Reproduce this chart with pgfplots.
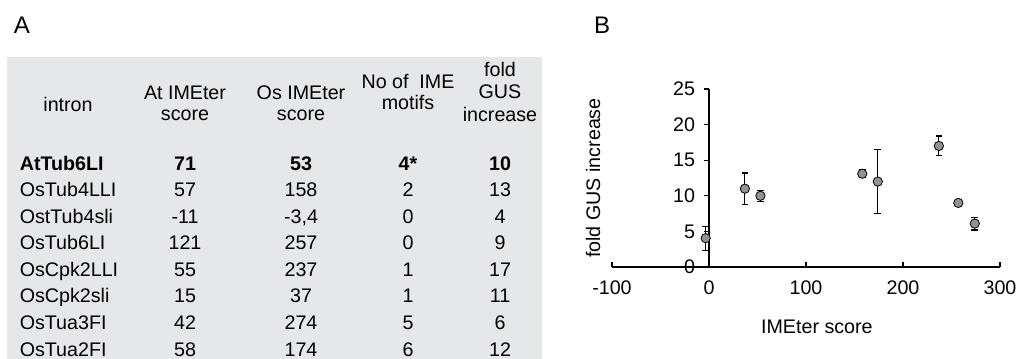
\documentclass[border=0pt]{standalone}
\usepackage{pgfplots}
\usepackage{pgfplotstable}
\pgfplotsset{compat=1.18}
\usepackage{fontspec}
\setmainfont{Liberation Sans}
\definecolor{tablegray}{HTML}{E6E7E8}
\definecolor{markgray}{HTML}{929292}

\pgfplotstableread{
os    fold  err
53    10    0.75
158   13.1  0.55
-3.4  4.05  1.7
257   9     0.15
237   17    1.4
37    11    2.2
274   6.1   0.9
174   12    4.45
}\scatterdata

\begin{document}
\fontsize{14.75}{16.5}\selectfont
\begin{tikzpicture}
\begin{scope}[x=0.75pt,y=-0.75pt]
\fill[tablegray] (7,57) rectangle (542,359);
\node[font=\fontsize{18}{20}\selectfont, anchor=base] at (22,33.5) {A};
\node[font=\fontsize{18}{20}\selectfont, anchor=base] at (602,33.5) {B};
% header
\node[anchor=base] at (68,112) {intron};
\node[anchor=base] at (185,100) {At IMEter};
\node[anchor=base] at (185,121) {score};
\node[anchor=base] at (301,100) {Os IMEter};
\node[anchor=base] at (301,121) {score};
\node[anchor=base] at (408,89) {No of\ \ IME};
\node[anchor=base] at (408,110) {motifs};
\node[anchor=base] at (500,77) {fold};
\node[anchor=base] at (500,99) {GUS};
\node[anchor=base] at (500,122) {increase};
% rows
\node[anchor=base west, font=\bfseries] at (13,170.5) {AtTub6LI};
\node[anchor=base, font=\bfseries] at (185,170.5) {71};
\node[anchor=base, font=\bfseries] at (301,170.5) {53};
\node[anchor=base, font=\bfseries] at (408,170.5) {4*};
\node[anchor=base, font=\bfseries] at (500,170.5) {10};
\foreach \n/\a/\o/\m/\f [count=\i from 1] in {
  OsTub4LLI/57/158/2/13,
  OstTub4sli/-11/{-3,4}/0/4,
  OsTub6LI/121/257/0/9,
  OsCpk2LLI/55/237/1/17,
  OsCpk2sli/15/37/1/11,
  OsTua3FI/42/274/5/6,
  OsTua2FI/58/174/6/12}{
  \pgfmathsetmacro\yy{170.5+26.5*\i}
  \node[anchor=base west] at (13,\yy) {\n};
  \node[anchor=base] at (185,\yy) {\a};
  \node[anchor=base] at (301,\yy) {\o};
  \node[anchor=base] at (408,\yy) {\m};
  \node[anchor=base] at (500,\yy) {\f};
}
\end{scope}
\begin{axis}[
  at={(531.75pt,-200.25pt)}, anchor=origin,
  scale only axis, width=291pt, height=133.5pt,
  xmin=-100, xmax=300, ymin=0, ymax=25,
  clip=false,
  axis x line=bottom, axis y line=middle,
  axis line style={-, line width=0.9pt, black},
  xtick={-100,0,100,200,300}, xticklabels={-100,0,100,200,300},
  ytick={0,5,10,15,20,25}, yticklabels={0,5,10,15,20,25},
  hide obscured x ticks=false, hide obscured y ticks=false,
  tick align=outside, major tick length=3.4pt,
  tick style={black, line width=0.9pt},
  xtick style={yshift=3.4pt},
  xticklabel style={anchor=base, yshift=-17.5pt},
  yticklabel style={anchor=east, xshift=-2pt},
  xlabel={IMEter score}, ylabel={fold GUS increase},
  xlabel style={at={(axis description cs:0.528,-0.337)}, anchor=center},
  ylabel style={at={(axis description cs:-0.049,0.5)}, anchor=center, rotate=90},
]
\addplot[black, only marks, mark=*, mark size=3.5pt,
  mark options={fill=markgray, draw=black, line width=0.6pt},
  error bars/.cd, y dir=both, y explicit,
  error bar style={black, line width=0.8pt},
  error mark options={rotate=90, mark size=2.5pt, black, line width=0.8pt}]
  table[x=os, y=fold, y error=err] {\scatterdata};
\end{axis}
\pgfresetboundingbox
\path[use as bounding box] (0,0) rectangle (765pt,-269.25pt);
\end{tikzpicture}
\end{document}
